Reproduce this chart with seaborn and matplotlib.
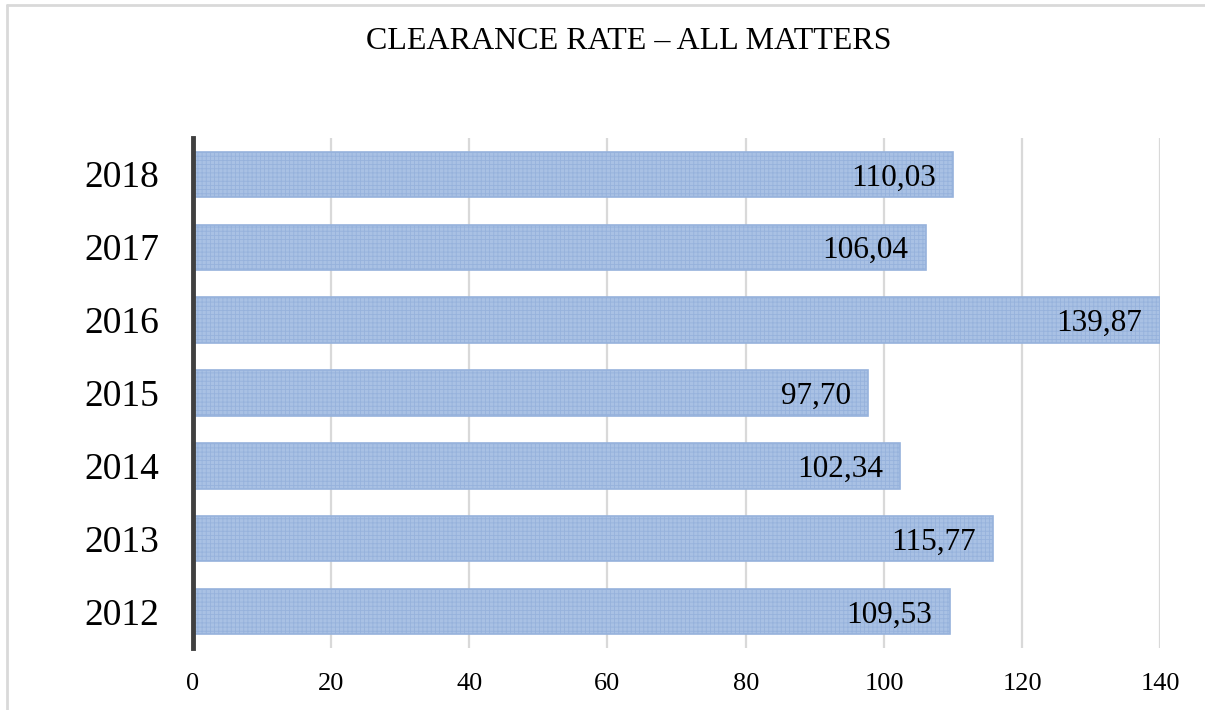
import matplotlib
matplotlib.use('Agg')
import matplotlib.pyplot as plt
from matplotlib.lines import Line2D
import seaborn as sns
import pandas as pd

years = ['2018', '2017', '2016', '2015', '2014', '2013', '2012']
rates = [110.03, 106.04, 139.87, 97.70, 102.34, 115.77, 109.53]
labels = ['110,03', '106,04', '139,87', '97,70', '102,34', '115,77', '109,53']
xticks = [0, 20, 40, 60, 80, 100, 120, 140]

df = pd.DataFrame({'Year': years, 'Rate': rates})

sns.set_style('white')
plt.rcParams['font.family'] = ['Liberation Serif', 'DejaVu Serif']
plt.rcParams['text.color'] = 'black'
plt.rcParams['xtick.color'] = 'black'
plt.rcParams['ytick.color'] = 'black'
plt.rcParams['hatch.color'] = '#CFDCF0'
plt.rcParams['hatch.linewidth'] = 0.6

fig = plt.figure(figsize=(12.05, 7.10), dpi=100)
ax = fig.add_axes([0.160, 0.087, 0.803, 0.719])

sns.barplot(data=df, x='Rate', y='Year', orient='h', color='#A9C1E4',
            width=0.62, saturation=1, ax=ax, zorder=3)
for p in ax.patches:
    p.set_hatch('++++')
    p.set_edgecolor('#96B2DC')
    p.set_linewidth(1.2)

for i, (v, t) in enumerate(zip(rates, labels)):
    ax.text(v - 2.5, i + 0.05, t, ha='right', va='center', fontsize=22.5, color='black', zorder=4)

ax.set_xlim(0, 140)
ax.set_ylim(6.5, -0.5)
ax.set_xticks(xticks)
ax.set_xticklabels([str(x) for x in xticks], fontsize=19)
ax.tick_params(axis='y', labelsize=27, length=0, pad=24, labelcolor='black')
ax.tick_params(axis='x', length=0, pad=18, labelcolor='black')
ax.xaxis.grid(True, color='#D9D9D9', linewidth=1.6, zorder=0)
ax.set_axisbelow(True)
sns.despine(ax=ax, top=True, right=True, bottom=True, left=False)
ax.spines['left'].set_color('#404040')
ax.spines['left'].set_linewidth(3.5)
ax.spines['left'].set_zorder(5)
ax.set_xlabel('')
ax.set_ylabel('')

fig.text(0.522, 0.941, 'CLEARANCE RATE – ALL MATTERS', ha='center', va='center',
         fontsize=23, color='black')

# light frame around the chart area
frame_kw = dict(color='#D9D9D9', linewidth=2, transform=fig.transFigure)
fig.add_artist(Line2D([0.0055, 0.0055], [0.0, 0.9935], **frame_kw))
fig.add_artist(Line2D([0.0055, 1.0], [0.9935, 0.9935], **frame_kw))

fig.savefig('out.png', dpi=100)
